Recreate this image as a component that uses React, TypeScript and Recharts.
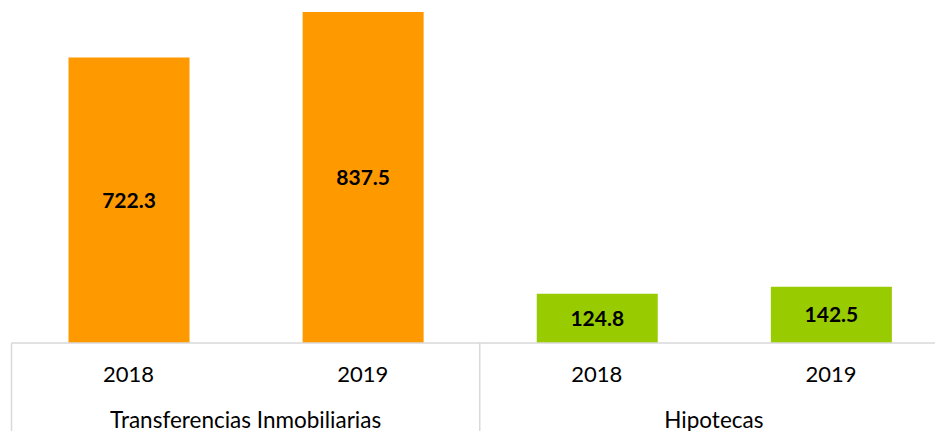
import React from "react";
import { BarChart, Bar, XAxis, YAxis, Cell, LabelList } from "recharts";

const categories = ["2018", "2019", "2018", "2019"];
const groups = ["Transferencias Inmobiliarias", "Transferencias Inmobiliarias", "Hipotecas", "Hipotecas"];
const values = [722.3, 837.5, 124.8, 142.5];
const barColors = ["#FF9900", "#FF9900", "#99CC00", "#99CC00"];

const data = categories.map((c, i) => ({ key: `${groups[i]}-${c}`, year: c, group: groups[i], value: values[i] }));

const CHART_W = 948;
const CHART_H = 431;
const LEFT = 11.5;
const BAND = (CHART_W - LEFT) / categories.length;
const FONT = "Lato, 'Open Sans', sans-serif";
const AXIS_COLOR = "#d9d9d9";

const Tick = (props: any) => {
  const { x, y, index } = props;
  const year = categories[index];
  const group = groups[index];
  const isGroupStart = index === 0 || groups[index - 1] !== group;
  const isLast = index === categories.length - 1;
  let groupEls: any = null;
  if (isGroupStart) {
    let count = 0;
    for (let j = index; j < groups.length && groups[j] === group; j++) count++;
    const cx = x - BAND / 2 + (count * BAND) / 2;
    groupEls = (
      <text x={cx} y={y + 85} textAnchor="middle" fontFamily={FONT} fontSize={22.5} fill="#000">
        {group}
      </text>
    );
  }
  return (
    <g>
      {isGroupStart && (
        <line x1={x - BAND / 2} x2={x - BAND / 2} y1={y} y2={CHART_H + 10} stroke={AXIS_COLOR} strokeWidth={1.5} />
      )}
      {isLast && (
        <line x1={x + BAND / 2} x2={x + BAND / 2} y1={y} y2={CHART_H + 10} stroke={AXIS_COLOR} strokeWidth={1.5} />
      )}
      <text x={x} y={y + 39} textAnchor="middle" fontFamily={FONT} fontSize={22} fill="#000">
        {year}
      </text>
      {groupEls}
    </g>
  );
};

export default function App() {
  return (
    <div style={{ position: "absolute", left: 0, top: 0, width: 935, height: 431, overflow: "hidden", background: "#fff" }}>
      <BarChart
        width={CHART_W}
        height={CHART_H}
        data={data}
        margin={{ top: 12, right: 0, left: LEFT, bottom: 0 }}
      >
        <XAxis
          dataKey="key"
          height={88}
          interval={0}
          tickLine={false}
          tickSize={0}
          tickMargin={0}
          axisLine={{ stroke: AXIS_COLOR, strokeWidth: 1.5 }}
          tick={<Tick />}
        />
        <YAxis hide domain={[0, 837.5]} />
        <Bar dataKey="value" barSize={121} isAnimationActive={false}>
          {data.map((d, i) => (
            <Cell key={d.key} fill={barColors[i]} />
          ))}
          <LabelList
            dataKey="value"
            position="center"
            formatter={(v: any) => Number(v).toFixed(1)}
            style={{ fontFamily: FONT, fontSize: 21, fontWeight: 700, fill: "#000" }}
          />
        </Bar>
      </BarChart>
    </div>
  );
}
